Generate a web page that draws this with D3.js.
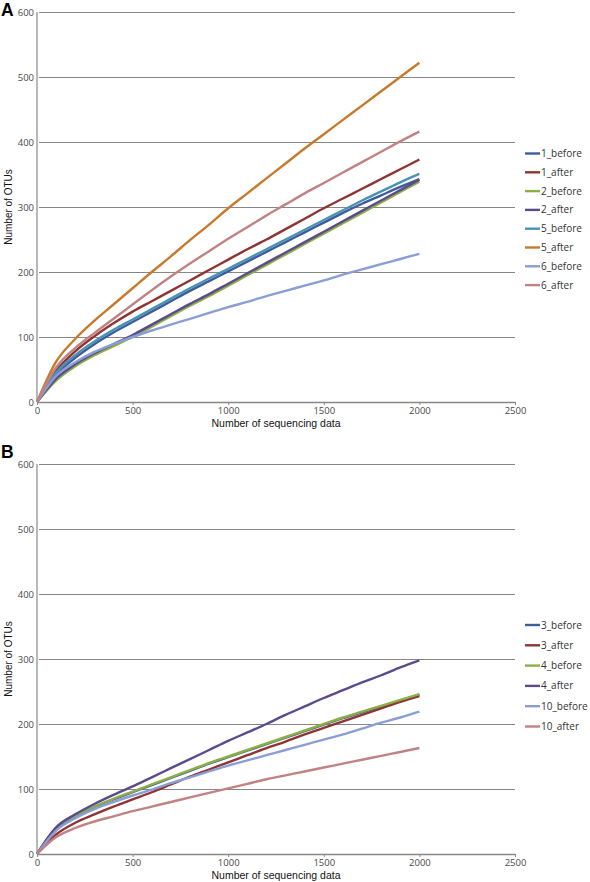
<!DOCTYPE html>
<html><head><meta charset="utf-8">
<script src="https://cdn.jsdelivr.net/npm/d3@7"></script>
<style>
html,body{margin:0;padding:0;background:#fff;}
svg text{font-family:"Open Sans","DejaVu Sans",sans-serif;}
</style></head>
<body><svg id="c" width="590" height="882"></svg>
<script>
// ---- data ----
const seqDepth = [0,100,200,300,400,500,600,700,800,900,1000,1100,1200,1300,1400,1500,1600,1700,1800,1900,2000];
const xTicks = [0,500,1000,1500,2000,2500];
const yTicks = [0,100,200,300,400,500,600];

// Panel A
const namesA = ["1_before","1_after","2_before","2_after","5_before","5_after","6_before","6_after"];
const s1_before = [0,42,68,89,107,123,139,155,171,186,201,216,231,246,261,276,291,305,318,331,343];
const s1_after  = [0,48,78,101,121,139,155,171,187,203,219,235,250,266,282,298,313,328,343,358,373];
const s2_before = [0,33,55,72,86,100,116,132,148,163,179,195,211,227,243,259,275,291,307,323,339];
const s2_after  = [0,36,58,75,89,103,119,135,151,166,182,198,214,230,246,262,278,294,310,326,342];
const s5_before = [0,45,72,93,111,127,143,159,175,190,205,220,235,250,265,280,295,310,324,338,351];
const s5_after  = [0,62,97,125,150,175,200,224,249,273,298,321,344,367,390,412,434,456,478,500,522];
const s6_before = [0,40,61,77,89,100,110,119,128,137,146,154,163,171,179,187,196,204,212,220,228];
const s6_after  = [0,53,83,106,128,150,172,193,213,232,251,269,287,304,321,337,353,369,385,401,416];

// Panel B
const namesB = ["3_before","3_after","4_before","4_after","10_before","10_after"];
const s3_before  = [0,39,58,72,84,95,106,117,128,139,149,159,169,179,189,199,209,218,227,236,245];
const s3_after   = [0,30,48,61,73,84,95,107,119,130,141,152,163,173,184,194,204,214,224,234,243];
const s4_before  = [0,40,59,73,85,96,107,118,129,140,150,160,170,180,190,200,210,219,228,237,246];
const s4_after   = [0,41,61,77,91,104,118,132,146,160,174,187,200,214,227,240,252,264,275,287,298];
const s10_before = [0,36,55,69,80,90,99,109,118,127,136,144,152,160,168,176,184,193,202,210,219];
const s10_after  = [0,26,40,50,58,66,73,80,87,94,101,108,115,121,127,133,139,145,151,157,163];

const colorsA = ["#3D5C9C","#8E3533","#8BAF45","#5B4A8C","#4A92B4","#C77A2B","#8A9ED6","#C08282"];
const colorsB = ["#3D5C9C","#8E3533","#8BAF45","#5B4A8C","#8A9ED6","#C08282"];

const seriesA = [s1_before,s1_after,s2_before,s2_after,s5_before,s5_after,s6_before,s6_after];
const seriesB = [s3_before,s3_after,s4_before,s4_after,s10_before,s10_after];

const svg = d3.select("#c");

function panel(letter, top, letterY, names, series, colors, legendTop, legendStep){
  const x0 = 37, x1 = 515, yTop = top, yBot = top + 390;
  const x = d3.scaleLinear().domain([0,2500]).range([x0,x1]);
  const y = d3.scaleLinear().domain([0,600]).range([yBot,yTop]);
  const g = svg.append("g");

  // gridlines + y tick labels
  g.append("g").attr("transform",`translate(${x0},0)`)
    .call(d3.axisLeft(y).tickValues(yTicks).tickFormat(d3.format("d"))
      .tickSize(-(x1-x0)).tickSizeOuter(0).tickPadding(3))
    .call(a=>a.select(".domain").remove())
    .call(a=>a.selectAll(".tick line").attr("stroke","#878787").attr("stroke-width",1.2).attr("x1",2))
    .call(a=>a.selectAll(".tick text").attr("fill","#4a4a4a").attr("font-size",9.5));
  // y axis line
  g.append("line").attr("x1",x0).attr("x2",x0).attr("y1",yTop).attr("y2",yBot)
    .attr("stroke","#b8b8b8").attr("stroke-width",2);
  // x axis
  g.append("g").attr("transform",`translate(0,${yBot})`)
    .call(d3.axisBottom(x).tickValues(xTicks).tickFormat(d3.format("d"))
      .tickSize(3).tickSizeOuter(0).tickPadding(2))
    .call(a=>a.select(".domain").attr("stroke","#878787").attr("stroke-width",1.4))
    .call(a=>a.selectAll(".tick line").attr("stroke","#878787"))
    .call(a=>a.selectAll(".tick text").attr("fill","#4a4a4a").attr("font-size",9.5));

  // lines
  const line = d3.line().x((d,i)=>x(seqDepth[i])).y(d=>y(d)).curve(d3.curveMonotoneX);
  series.forEach((s,i)=>{
    g.append("path").attr("d",line(s)).attr("fill","none")
      .attr("stroke",colors[i]).attr("stroke-width",2.4).attr("stroke-linejoin","round");
  });

  // axis titles
  g.append("text").attr("x",(x0+x1)/2).attr("y",yBot+25).attr("text-anchor","middle")
    .attr("font-size",10.5).attr("fill","#111").style("font-family","'Liberation Sans',Arial,sans-serif")
    .text("Number of sequencing data");
  g.append("text").attr("transform",`translate(12,${(yTop+yBot)/2}) rotate(-90)`)
    .attr("text-anchor","middle").attr("font-size",10).attr("fill","#111")
    .style("font-family","'Liberation Sans',Arial,sans-serif").text("Number of OTUs");

  // panel letter
  g.append("text").attr("x",1).attr("y",letterY).attr("font-size",17.5).attr("font-weight","bold")
    .style("font-family","'Liberation Sans',Arial,sans-serif").attr("fill","#000").text(letter);

  // legend
  names.forEach((n,i)=>{
    const ly = legendTop + i*legendStep;
    g.append("line").attr("x1",525).attr("x2",540).attr("y1",ly).attr("y2",ly)
      .attr("stroke",colors[i]).attr("stroke-width",2.4);
    g.append("text").attr("x",541).attr("y",ly+3.5).attr("font-size",10).attr("fill","#333").text(n);
  });
}

panel("A", 12, 15.5, namesA, seriesA, colorsA, 153.5, 18.8);
panel("B", 464, 457.5, namesB, seriesB, colorsB, 625, 20.3);
</script></body></html>
